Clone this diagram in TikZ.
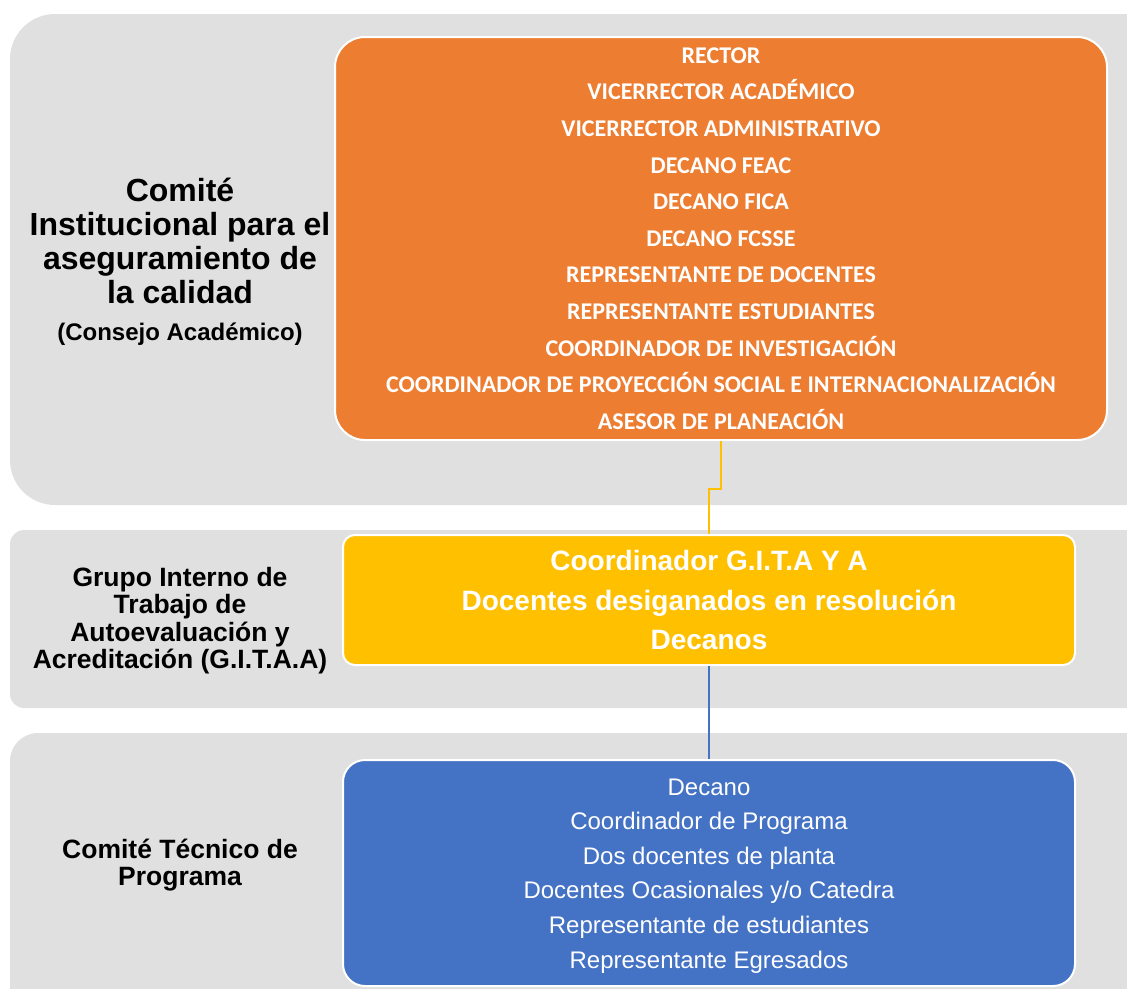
\documentclass[tikz,border=0pt]{standalone}
\usepackage{fontspec}
\setmainfont{Liberation Sans}
\newfontfamily\calibri{Carlito}
\usetikzlibrary{positioning}
\definecolor{bandgray}{HTML}{E0E0E0}
\definecolor{orangebox}{HTML}{ED7D31}
\definecolor{goldbox}{HTML}{FFC000}
\definecolor{bluebox}{HTML}{4472C4}

\begin{document}
\begin{tikzpicture}[x=1pt, y=-1pt,
    band/.style = {fill=bandgray},
    box/.style = {draw=white, line width=2pt, text=white, align=center, inner sep=0pt, minimum width=732pt},
    sidetext/.style = {align=center, font=\bfseries\fontsize{26.5}{27.5}\selectfont}]
    \useasboundingbox (0,0) rectangle (1127,988);

    \fill[band, rounded corners=45pt] (10,14) rectangle (1170,505);
    \fill[band, rounded corners=14pt] (10,530) rectangle (1170,708);
    \fill[band, rounded corners=28pt] (10,733) rectangle (1170,1040);

    \node[box, fill=orangebox, rounded corners=30pt, minimum width=772pt, minimum height=403pt,
        font=\calibri\bfseries\fontsize{24}{36.6}\selectfont] (council) at (721,238.5)
        {RECTOR\\VICERRECTOR ACADÉMICO\\VICERRECTOR ADMINISTRATIVO\\DECANO FEAC\\DECANO FICA\\DECANO FCSSE\\REPRESENTANTE DE DOCENTES\\REPRESENTANTE ESTUDIANTES\\COORDINADOR DE INVESTIGACIÓN\\COORDINADOR DE PROYECCIÓN SOCIAL E INTERNACIONALIZACIÓN\\ASESOR DE PLANEACIÓN};
    \node[box, fill=goldbox, rounded corners=12pt, minimum height=130pt,
        font=\bfseries\fontsize{28}{39.5}\selectfont] (gitaa) at (709,600)
        {Coordinador G.I.T.A Y A\\Docentes desiganados en resolución\\Decanos};
    \node[box, fill=bluebox, rounded corners=22pt, minimum height=226pt,
        font=\fontsize{24}{34.6}\selectfont] (program) at (709,873)
        {\rule{0pt}{22pt}Decano\\Coordinador de Programa\\Dos docentes de planta\\Docentes Ocasionales y/o Catedra\\Representante de estudiantes\\Representante Egresados};

    \node[sidetext, font=\bfseries\fontsize{32}{34}\selectfont] (councilname) at (180,241)
        {Comité\\Institucional para el\\aseguramiento de\\la calidad};
    \node[sidetext, font=\bfseries\fontsize{24}{24}\selectfont] (councilnote) [below=12pt of councilname]
        {(Consejo Académico)};
    \node[sidetext] (gitaaname) at (180,620.5)
        {Grupo Interno de\\Trabajo de\\Autoevaluación y\\Acreditación (G.I.T.A.A)};
    \node[sidetext] (programname) at (180,865)
        {Comité Técnico de\\Programa};

    \draw[goldbox, line width=2pt] (council.south) -- ++(0,48) -| (gitaa.north);
    \draw[bluebox, line width=1.5pt] (gitaa.south) -- (program.north);
\end{tikzpicture}
\end{document}
